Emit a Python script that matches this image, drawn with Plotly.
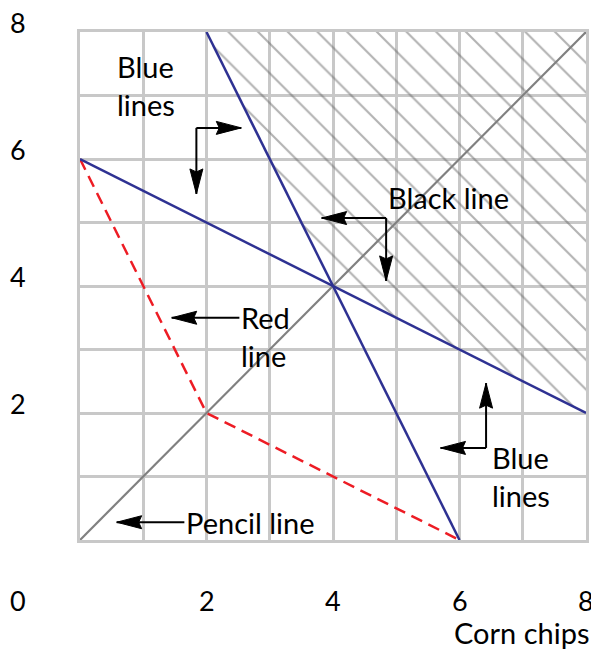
import plotly.graph_objects as go


# =====================================
# DATA
# =====================================

x_tick_vals = [2, 4, 6, 8]
y_tick_vals = [2, 4, 6, 8]

# constraint lines (corner points)
blue_steep_x = [2, 6]
blue_steep_y = [8, 0]

blue_flat_x = [0, 8]
blue_flat_y = [6, 2]

pencil_x = [0, 8]
pencil_y = [0, 8]

red_x = [0, 2, 6]
red_y = [6, 2, 0]

# feasible (hatched) region
region_x = [2, 4, 8, 8, 2]
region_y = [8, 4, 2, 8, 8]


# =====================================
# STYLE
# =====================================

FONT = "Lato"
BLUE = "#2e3192"
RED = "#ed1c24"
PENCIL = "#808080"
GRID = "#c8c8c8"

fig = go.Figure()


# =====================================
# TRACES
# =====================================

fig.add_trace(go.Scatter(
    x=region_x,
    y=region_y,
    mode="lines",
    fill="toself",
    fillcolor="rgba(0,0,0,0)",
    fillpattern=dict(
        shape="\\",
        size=21,
        solidity=0.1,
        fgcolor="#666666",
        bgcolor="rgba(0,0,0,0)"
    ),
    line=dict(width=0),
    hoverinfo="skip"
))

fig.add_trace(go.Scatter(
    x=pencil_x, y=pencil_y, mode="lines",
    line=dict(color=PENCIL, width=2.2)
))

fig.add_trace(go.Scatter(
    x=red_x, y=red_y, mode="lines",
    line=dict(color=RED, width=2.5, dash="12px,7px")
))

fig.add_trace(go.Scatter(
    x=blue_flat_x, y=blue_flat_y, mode="lines",
    line=dict(color=BLUE, width=2.5)
))

fig.add_trace(go.Scatter(
    x=blue_steep_x, y=blue_steep_y, mode="lines",
    line=dict(color=BLUE, width=2.5)
))


# =====================================
# ARROWS
# =====================================

HEAD_LEN = 25
HEAD_HALF = 6.5
NOTCH = 3

head_paths = {
    "right": f"M0,0 L{-HEAD_LEN},{HEAD_HALF} L{-HEAD_LEN + NOTCH},0 L{-HEAD_LEN},{-HEAD_HALF} Z",
    "left": f"M0,0 L{HEAD_LEN},{HEAD_HALF} L{HEAD_LEN - NOTCH},0 L{HEAD_LEN},{-HEAD_HALF} Z",
    "down": f"M0,0 L{HEAD_HALF},{HEAD_LEN} L0,{HEAD_LEN - NOTCH} L{-HEAD_HALF},{HEAD_LEN} Z",
    "up": f"M0,0 L{HEAD_HALF},{-HEAD_LEN} L0,{-HEAD_LEN + NOTCH} L{-HEAD_HALF},{-HEAD_LEN} Z",
}


def add_arrow(x0, y0, x1, y1, direction):
    fig.add_shape(
        type="line", x0=x0, y0=y0, x1=x1, y1=y1,
        xref="x", yref="y",
        line=dict(color="black", width=2)
    )
    fig.add_shape(
        type="path",
        xsizemode="pixel", ysizemode="pixel",
        xanchor=x1, yanchor=y1,
        xref="x", yref="y",
        path=head_paths[direction],
        fillcolor="black",
        line=dict(color="black", width=1)
    )


# top-left bent arrow
add_arrow(1.84, 6.49, 2.55, 6.49, "right")
add_arrow(1.84, 6.49, 1.84, 5.45, "down")

# black line bent arrow
add_arrow(4.84, 5.07, 3.82, 5.07, "left")
add_arrow(4.84, 5.07, 4.84, 4.08, "down")

# red line / pencil line
add_arrow(2.52, 3.50, 1.45, 3.50, "left")
add_arrow(1.65, 0.28, 0.58, 0.28, "left")

# bottom-right bent arrow
add_arrow(6.42, 1.45, 5.70, 1.45, "left")
add_arrow(6.42, 1.45, 6.42, 2.47, "up")


# =====================================
# LABELS
# =====================================

labels = [
    ("Blue<br>lines", 0.55, 7.15),
    ("Black line", 4.83, 5.39),
    ("Red<br>line", 2.52, 3.20),
    ("Pencil line", 1.65, 0.28),
    ("Blue<br>lines", 6.49, 1.00),
]

for text, lx, ly in labels:
    fig.add_annotation(
        x=lx, y=ly, xref="x", yref="y",
        text=text, showarrow=False,
        xanchor="left", yanchor="middle", align="left",
        font=dict(family=FONT, size=29, color="black"),
        bgcolor="rgba(0,0,0,0)"
    )

for v in y_tick_vals:
    fig.add_annotation(
        x=-0.122, y=v, xref="paper", yref="y",
        text=str(v), showarrow=False,
        xanchor="center", yanchor="middle", yshift=10,
        font=dict(family=FONT, size=27, color="black")
    )

for v in x_tick_vals:
    fig.add_annotation(
        x=v, y=0, xref="x", yref="paper",
        text=str(v), showarrow=False,
        xanchor="center", yanchor="middle", yshift=-60,
        font=dict(family=FONT, size=27, color="black")
    )

fig.add_annotation(
    x=-0.122, y=0, xref="paper", yref="paper",
    text="0", showarrow=False,
    xanchor="center", yanchor="middle", yshift=-60,
    font=dict(family=FONT, size=27, color="black")
)

fig.add_annotation(
    x=1, y=0, xref="paper", yref="paper",
    text="Corn chips", showarrow=False,
    xanchor="right", yanchor="middle", xshift=6, yshift=-92,
    font=dict(family=FONT, size=29, color="black")
)


# =====================================
# LAYOUT
# =====================================

axis_style = dict(
    range=[0, 8],
    dtick=1,
    showgrid=True,
    gridcolor=GRID,
    gridwidth=2.5,
    showline=True,
    linecolor=GRID,
    linewidth=2.5,
    mirror=True,
    zeroline=False,
    showticklabels=False,
    ticks="",
    fixedrange=True
)

# page body adds an 8px margin, so the figure is drawn 8px smaller
fig.update_layout(
    width=591,
    height=641,
    margin=dict(l=72, r=10, t=24, b=109),
    plot_bgcolor="white",
    paper_bgcolor="white",
    showlegend=False,
    xaxis=axis_style,
    yaxis=axis_style
)

fig.write_html("out.html")
